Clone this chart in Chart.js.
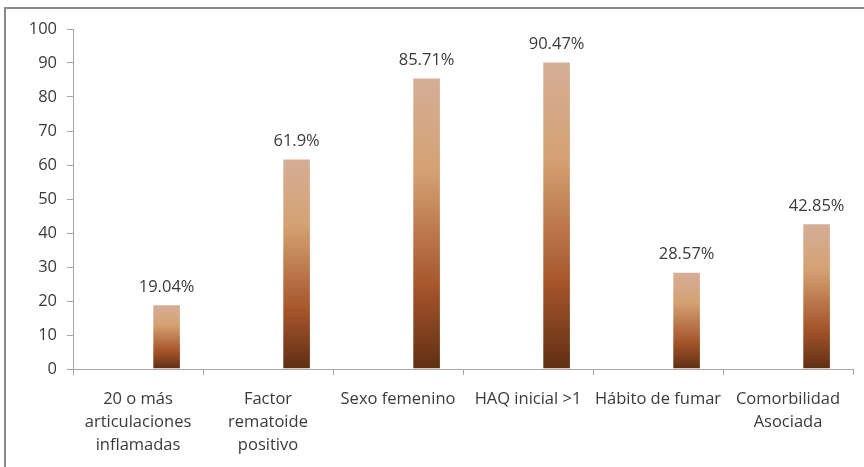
<!DOCTYPE html>
<html>
<head>
<meta charset="utf-8">
<script src="https://cdn.jsdelivr.net/npm/chart.js@4.4.1/dist/chart.umd.min.js"></script>
<style>
  html, body { margin: 0; padding: 0; background: #fff; }
  #wrap { position: relative; width: 864px; height: 467px; }
</style>
</head>
<body>
<div id="wrap"><canvas id="factorsChart" width="864" height="467"></canvas></div>
<script>
const categories = [
    ['20 o más', 'articulaciones', 'inflamadas'],
    ['Factor', 'rematoide', 'positivo'],
    'Sexo femenino',
    'HAQ inicial >1',
    'Hábito de fumar',
    ['Comorbilidad', 'Asociada']
];
const percentages = [19.04, 61.9, 85.71, 90.47, 28.57, 42.85];
const yTicks = [0, 10, 20, 30, 40, 50, 60, 70, 80, 90, 100];

const fontFamily = '"Open Sans", Lato, sans-serif';
const fontSize = 16.5;
const textColor = '#3a3a3a';
const axisColor = '#a6a6a6';

// each bar gets its own top-to-bottom shading
function barGradient(context) {
    const chart = context.chart;
    const y = chart.scales.y;
    if (!y || context.raw == null) return '#a8562b';
    const top = y.getPixelForValue(context.raw);
    const bottom = y.getPixelForValue(0);
    if (!isFinite(top) || !isFinite(bottom) || top === bottom) return '#a8562b';
    const g = chart.ctx.createLinearGradient(0, top, 0, bottom);
    g.addColorStop(0, '#d5ae98');
    g.addColorStop(0.32, '#d4a172');
    g.addColorStop(0.72, '#a6552b');
    g.addColorStop(1, '#5f2f13');
    return g;
}

const frame = {
    id: 'frame',
    beforeDraw(chart) {
        const ctx = chart.ctx;
        ctx.save();
        ctx.strokeStyle = '#8a8a8a';
        ctx.lineWidth = 2;
        ctx.strokeRect(5, 8, 900, 500);
        ctx.restore();
    }
};

const valueLabels = {
    id: 'valueLabels',
    afterDatasetsDraw(chart) {
        const ctx = chart.ctx;
        const meta = chart.getDatasetMeta(2);
        ctx.save();
        ctx.font = fontSize + 'px ' + fontFamily;
        ctx.fillStyle = textColor;
        ctx.textAlign = 'center';
        ctx.textBaseline = 'bottom';
        meta.data.forEach((bar, i) => {
            ctx.fillText(percentages[i] + '%', bar.x, bar.y - 9);
        });
        ctx.restore();
    }
};

new Chart(document.getElementById('factorsChart'), {
    type: 'bar',
    data: {
        labels: categories,
        datasets: [
            { data: [], backgroundColor: 'transparent' },
            { data: [], backgroundColor: 'transparent' },
            {
                data: percentages,
                backgroundColor: barGradient,
                borderColor: 'rgba(255,255,255,0.5)',
                borderWidth: 1
            }
        ]
    },
    options: {
        responsive: false,
        animation: false,
        events: [],
        datasets: {
            bar: { categoryPercentage: 0.66, barPercentage: 1 }
        },
        layout: { padding: { top: 29, right: 11, left: 0, bottom: 0 } },
        plugins: {
            legend: { display: false },
            tooltip: { enabled: false }
        },
        scales: {
            x: {
                grid: {
                    offset: true,
                    drawOnChartArea: false,
                    drawTicks: true,
                    tickLength: 6,
                    color: axisColor
                },
                border: { color: axisColor, width: 1 },
                ticks: {
                    color: textColor,
                    font: { family: fontFamily, size: fontSize, lineHeight: 1.4 },
                    padding: 13,
                    maxRotation: 0,
                    autoSkip: false
                },
                afterFit(scale) { scale.height = 98; }
            },
            y: {
                min: 0,
                max: 100,
                afterBuildTicks(scale) {
                    scale.ticks = yTicks.map(v => ({ value: v }));
                },
                grid: {
                    drawOnChartArea: false,
                    drawTicks: true,
                    tickLength: 6,
                    color: axisColor
                },
                border: { color: axisColor, width: 1 },
                ticks: {
                    color: textColor,
                    font: { family: fontFamily, size: fontSize },
                    padding: 10
                },
                afterFit(scale) { scale.width = 73; }
            }
        }
    },
    plugins: [frame, valueLabels]
});
</script>
</body>
</html>
